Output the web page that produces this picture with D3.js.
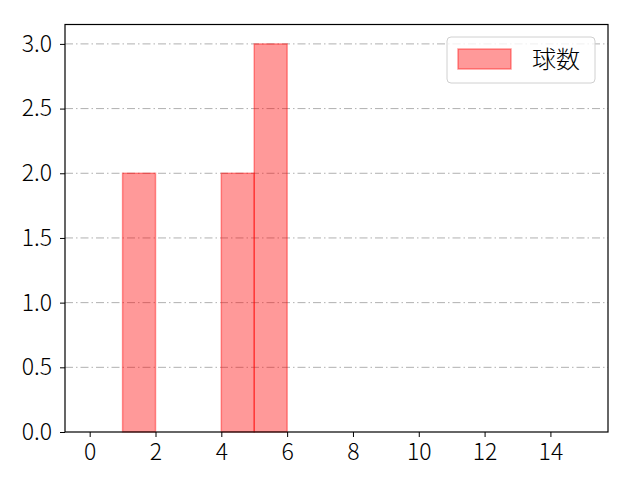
<!DOCTYPE html>
<html lang="ja">
<head>
    <meta charset="UTF-8">
    <title>球数</title>
    <script src="https://d3js.org/d3.v7.min.js"></script>
    <style>
        body { margin: 0; background: #fff; }
        svg text { font-family: "Noto Sans CJK JP", "Noto Sans", sans-serif; font-weight: 300; fill: #000; }
        .tick text { font-size: 23px; }
        .legend-label { font-size: 24px; }
    </style>
</head>
<body>
    <svg id="chart"></svg>
    <script>
        // Histogram bins (left edge, right edge) and counts
        const binStarts = [1, 4, 5];
        const binEnds = [2, 5, 6];
        const counts = [2, 2, 3];
        const xTicks = [0, 2, 4, 6, 8, 10, 12, 14];
        const yTicks = [0, 0.5, 1.0, 1.5, 2.0, 2.5, 3.0];
        const seriesName = "球数";

        const W = 640, H = 480;
        const margin = { top: 24.5, right: 32, bottom: 48, left: 65 };
        const width = W - margin.left - margin.right;
        const height = H - margin.top - margin.bottom;

        const svg = d3.select("#chart")
            .attr("width", W)
            .attr("height", H)
            .append("g")
            .attr("transform", `translate(${margin.left},${margin.top})`);

        const x = d3.scaleLinear().domain([-0.75, 15.75]).range([0, width]);
        const y = d3.scaleLinear().domain([0, 3.15]).range([height, 0]);

        // grid lines
        svg.append("g")
            .selectAll("line")
            .data(yTicks.filter(d => d > 0))
            .enter()
            .append("line")
            .attr("x1", 0)
            .attr("x2", width)
            .attr("y1", d => y(d))
            .attr("y2", d => y(d))
            .attr("stroke", "#b0b0b0")
            .attr("stroke-width", 1)
            .attr("stroke-dasharray", "8,3,1.5,3");

        // bars
        const bars = binStarts.map((s, i) => ({ x0: s, x1: binEnds[i], v: counts[i] }));
        svg.append("g")
            .selectAll("rect")
            .data(bars)
            .enter()
            .append("rect")
            .attr("x", d => x(d.x0))
            .attr("y", d => y(d.v))
            .attr("width", d => x(d.x1) - x(d.x0))
            .attr("height", d => y(0) - y(d.v))
            .attr("fill", "rgba(255,0,0,0.4)")
            .attr("stroke", "rgba(255,0,0,0.4)")
            .attr("stroke-width", 1.5);

        // axes
        const xAxis = svg.append("g")
            .attr("transform", `translate(0,${height})`)
            .call(d3.axisBottom(x).tickValues(xTicks).tickSize(5).tickPadding(5).tickFormat(d3.format("d")));
        const yAxis = svg.append("g")
            .call(d3.axisLeft(y).tickValues(yTicks).tickSize(5).tickPadding(8).tickFormat(d3.format(".1f")));
        [xAxis, yAxis].forEach(a => {
            a.select(".domain").remove();
            a.selectAll(".tick line").attr("stroke", "#000").attr("stroke-width", 1);
        });
        xAxis.selectAll(".tick text").attr("dy", "0.8em");

        // frame
        svg.append("rect")
            .attr("width", width)
            .attr("height", height)
            .attr("fill", "none")
            .attr("stroke", "#000")
            .attr("stroke-width", 1.2);

        // legend
        const lg = svg.append("g").attr("transform", `translate(${width - 161},${12.5})`);
        lg.append("rect")
            .attr("width", 148)
            .attr("height", 46)
            .attr("rx", 4)
            .attr("fill", "rgba(255,255,255,0.8)")
            .attr("stroke", "#d0d0d0");
        lg.append("rect")
            .attr("x", 11)
            .attr("y", 12)
            .attr("width", 53)
            .attr("height", 20)
            .attr("fill", "rgba(255,0,0,0.4)")
            .attr("stroke", "rgba(255,0,0,0.4)")
            .attr("stroke-width", 1.5);
        lg.append("text")
            .attr("class", "legend-label")
            .attr("x", 85)
            .attr("y", 23)
            .attr("dy", "0.35em")
            .text(seriesName);
    </script>
</body>
</html>
